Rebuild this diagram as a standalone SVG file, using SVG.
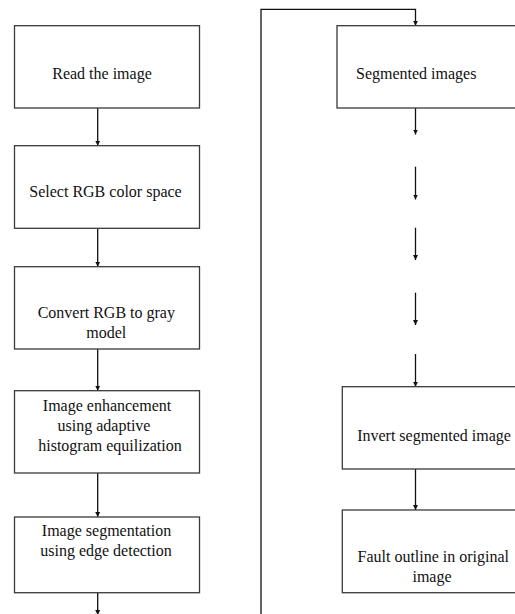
<svg xmlns="http://www.w3.org/2000/svg" width="515" height="614" viewBox="0 0 515 614">
<defs>
<style>
.box{fill:#fff;stroke:#3a3a3a;stroke-width:1.3}
.lbl{font-family:"Liberation Serif","Times New Roman",serif;font-size:16px;fill:#111}
.mid{text-anchor:middle}
.con{fill:none;stroke:#111;stroke-width:1.3}
</style>
<marker id="ah" markerUnits="userSpaceOnUse" markerWidth="6" markerHeight="6" viewBox="0 0 6 6" refX="5" refY="3" orient="auto">
<path d="M0,0.5 L5,3 L0,5.5 z" fill="#111"/>
</marker>
</defs>
<rect width="515" height="614" fill="#fff"/>
<g id="connectors">
<line class="con" x1="97.7" y1="108" x2="97.7" y2="145.7" marker-end="url(#ah)"/>
<line class="con" x1="97.7" y1="228.3" x2="97.7" y2="266.7" marker-end="url(#ah)"/>
<line class="con" x1="97.7" y1="349" x2="97.7" y2="390.7" marker-end="url(#ah)"/>
<line class="con" x1="97.7" y1="473" x2="97.7" y2="517" marker-end="url(#ah)"/>
<line class="con" x1="97.7" y1="592.7" x2="97.7" y2="615" marker-end="url(#ah)"/>
<polyline class="con" points="261,614 261,9.3 415.5,9.3 415.5,25.7" marker-end="url(#ah)"/>
<line class="con" x1="415.5" y1="108" x2="415.5" y2="134.5" marker-end="url(#ah)"/>
<line class="con" x1="415.5" y1="166.7" x2="415.5" y2="199.5" marker-end="url(#ah)"/>
<line class="con" x1="415.5" y1="227.7" x2="415.5" y2="260" marker-end="url(#ah)"/>
<line class="con" x1="415.5" y1="292.7" x2="415.5" y2="325" marker-end="url(#ah)"/>
<line class="con" x1="415.5" y1="354" x2="415.5" y2="386.7" marker-end="url(#ah)"/>
<line class="con" x1="415.5" y1="469" x2="415.5" y2="510" marker-end="url(#ah)"/>
</g>
<g id="n1">
<rect class="box" x="14.5" y="25.7" width="185" height="82.3"/>
<text class="lbl mid" x="102" y="79">Read the image</text>
</g>
<g id="n2">
<rect class="box" x="14.5" y="145.7" width="185" height="82.6"/>
<text class="lbl mid" x="105.5" y="197.3">Select RGB color space</text>
</g>
<g id="n3">
<rect class="box" x="14.5" y="266.7" width="185" height="82.3"/>
<text class="lbl mid" x="106.3" y="318.3">Convert RGB to gray</text>
<text class="lbl mid" x="106.3" y="337.7">model</text>
</g>
<g id="n4">
<rect class="box" x="14.5" y="390.7" width="185" height="82.3"/>
<text class="lbl mid" x="107" y="410.7">Image enhancement</text>
<text class="lbl mid" x="104" y="430.7">using adaptive</text>
<text class="lbl mid" x="110" y="450.5">histogram equilization</text>
</g>
<g id="n5">
<rect class="box" x="14.5" y="517" width="185" height="75.7"/>
<text class="lbl mid" x="106.5" y="536">Image segmentation</text>
<text class="lbl mid" x="106" y="556">using edge detection</text>
</g>
<g id="n6">
<rect class="box" x="337" y="25.7" width="190" height="82.3"/>
<text class="lbl" x="356" y="79">Segmented images</text>
</g>
<g id="n7">
<rect class="box" x="342.3" y="386.7" width="190" height="82.3"/>
<text class="lbl mid" x="434" y="440.5">Invert segmented image</text>
</g>
<g id="n8">
<rect class="box" x="342.3" y="510" width="190" height="82.7"/>
<text class="lbl mid" x="433.3" y="561.7">Fault outline in original</text>
<text class="lbl mid" x="432" y="581.7">image</text>
</g>
</svg>
